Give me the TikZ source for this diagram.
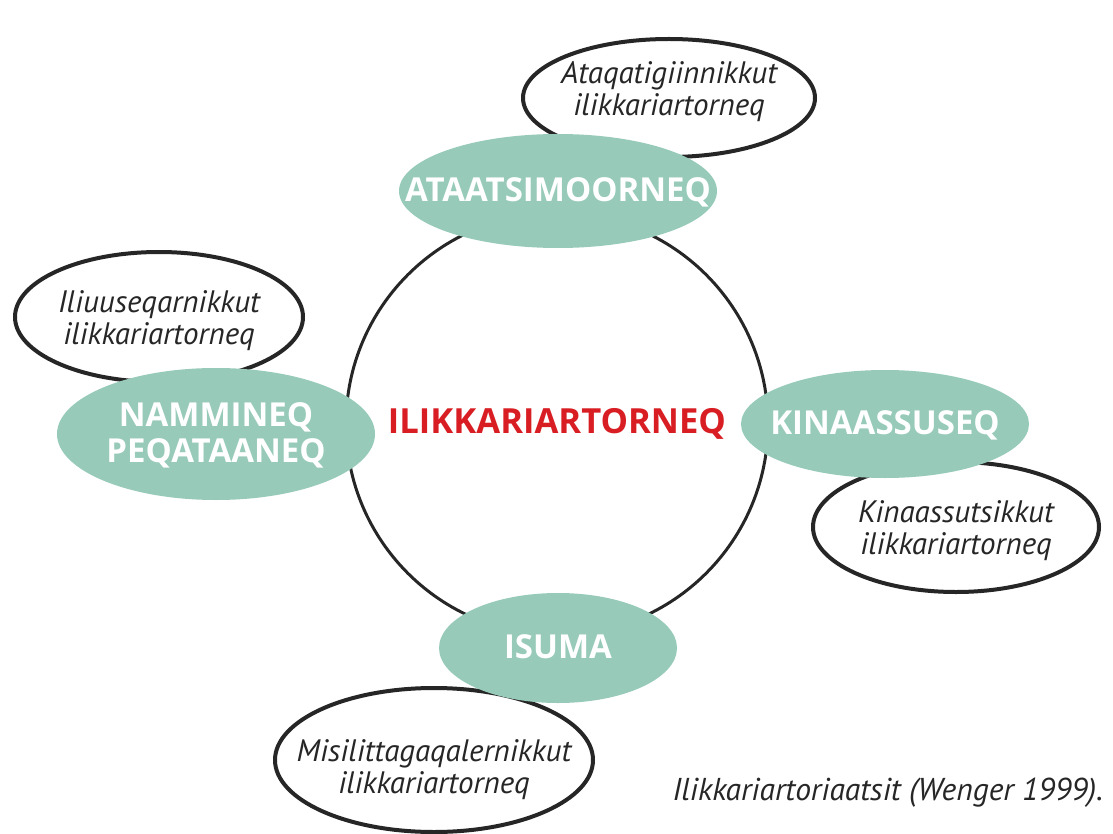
\documentclass[tikz,border=0pt]{standalone}
\usepackage{fontspec}
\setmainfont{PT Sans}
\newfontfamily\valuefont{Open Sans}
\usetikzlibrary{shapes.geometric}
\definecolor{sea}{HTML}{97CAB9}
\definecolor{ilred}{HTML}{D81E23}
\newcommand\flatbox[2][-6pt]{\makebox[0pt]{\raisebox{#1}[0pt][0pt]{\begin{tabular}{@{}c@{}}#2\end{tabular}}}}
\begin{document}
\begin{tikzpicture}[x=0.5pt,y=-0.5pt,value/.style={ellipse,fill=sea,inner sep=0pt,text=white,font=\fontsize{16.5}{18}\valuefont\bfseries},practice/.style={ellipse,draw=black!85,line width=2pt,fill=white,inner sep=0pt,text=black!85,font=\fontsize{15.5}{16}\selectfont\itshape},hub/.style={circle,draw=black!85,line width=1.5pt,minimum size=211pt,inner sep=0pt,text=ilred,font=\fontsize{17.3}{18}\valuefont\bfseries}]
\useasboundingbox (0,0) rectangle (1113,834);
\node[practice,minimum width=146pt,minimum height=59pt] (ataq) at (669,98) {\flatbox[-1pt]{Ataqatigiinnikkut\\ilikkariartorneq}};
\node[practice,minimum width=144pt,minimum height=65pt] (iliu) at (159,317) {\flatbox{Iliuuseqarnikkut\\ilikkariartorneq}};
\node[practice,minimum width=143pt,minimum height=65pt] (kinu) at (956,527) {\flatbox{Kinaassutsikkut\\ilikkariartorneq}};
\node[practice,minimum width=159pt,minimum height=72pt] (misi) at (434,760) {\flatbox[-9pt]{Misilittagaqalernikkut\\ilikkariartorneq}};
\node[hub] (ilik) at (557,424) {ILIKKARIARTORNEQ};
\node[value,minimum width=159pt,minimum height=57pt] (ataa) at (558,191) {\flatbox{ATAATSIMOORNEQ}};
\node[value,minimum width=159pt,minimum height=66pt] (namm) at (216,434) {\flatbox{NAMMINEQ\\PEQATAANEQ}};
\node[value,minimum width=144pt,minimum height=54pt] (kina) at (885,424) {\flatbox{KINAASSUSEQ}};
\node[value,minimum width=119pt,minimum height=55pt] (isum) at (558,648) {\flatbox{ISUMA}};
\node[anchor=base east,text=black!85,font=\fontsize{15.8}{16}\selectfont\itshape] (capt) at (1110,800) {Ilikkariartoriaatsit (Wenger 1999).};
\end{tikzpicture}
\end{document}
